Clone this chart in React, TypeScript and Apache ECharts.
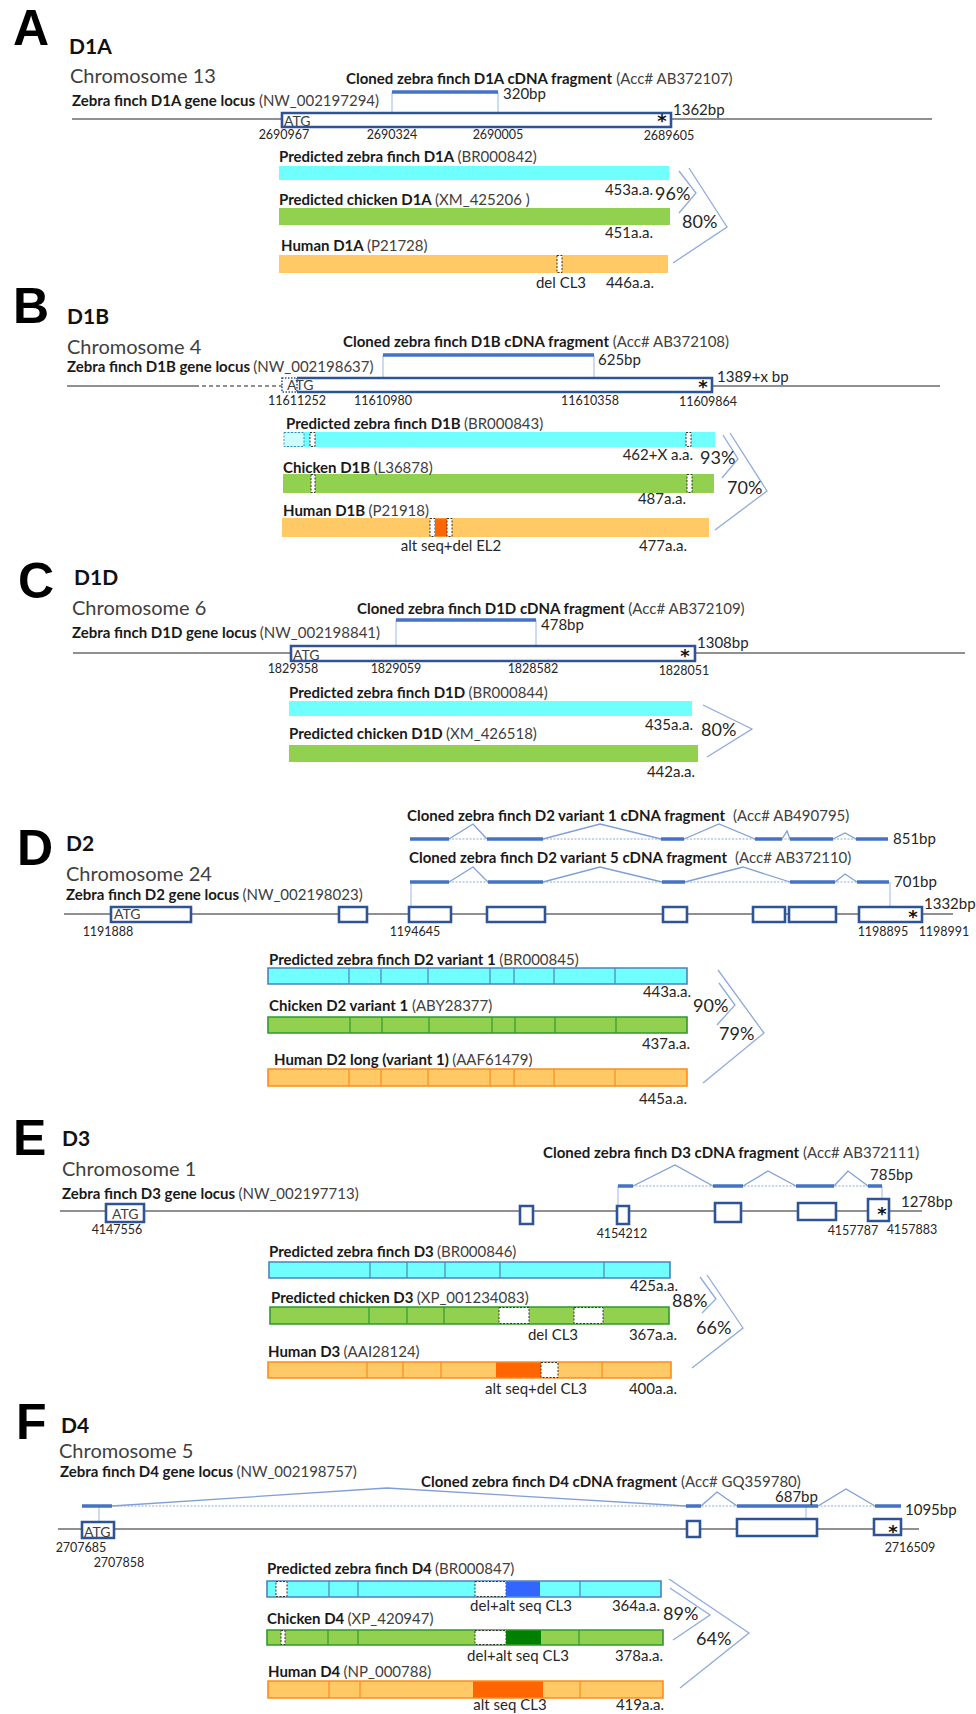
import React, { useEffect, useRef } from "react";
import * as echarts from "echarts";

const W = 976;
const H = 1714;
const FAM = "Lato, 'Open Sans', sans-serif";

// ---------- text data (diagram units) ----------
// [text, left x, centre y]
const panelLetters: [string, number, number][] = [
  ["A", 13, 28], ["B", 13, 306], ["C", 18, 581], ["D", 17, 848], ["E", 13, 1138], ["F", 16, 1422],
];
const geneNames: [string, number, number][] = [
  ["D1A", 69, 45], ["D1B", 67, 315], ["D1D", 74, 576], ["D2", 66, 842], ["D3", 62, 1137], ["D4", 61, 1424],
];
const chromosomes: [string, number, number][] = [
  ["Chromosome 13", 70, 75], ["Chromosome 4", 67, 346], ["Chromosome 6", 72, 607],
  ["Chromosome 24", 66, 873], ["Chromosome 1", 62, 1168], ["Chromosome 5", 59, 1450],
];
// [bold part, plain part, left x, centre y]
const locusLabels: [string, string, number, number][] = [
  ["Zebra finch D1A gene locus", "(NW_002197294)", 72, 100],
  ["Zebra finch D1B gene locus", "(NW_002198637)", 67, 366],
  ["Zebra finch D1D gene locus", "(NW_002198841)", 72, 632],
  ["Zebra finch D2 gene locus", "(NW_002198023)", 66, 894],
  ["Zebra finch D3 gene locus", "(NW_002197713)", 62, 1193],
  ["Zebra finch D4 gene locus", "(NW_002198757)", 60, 1471],
];
const cdnaTitles: [string, string, number, number][] = [
  ["Cloned zebra finch D1A cDNA fragment", "(Acc# AB372107)", 346, 78],
  ["Cloned zebra finch D1B cDNA fragment", "(Acc# AB372108)", 343, 341],
  ["Cloned zebra finch D1D cDNA fragment", "(Acc# AB372109)", 357, 608],
  ["Cloned zebra finch D2 variant 1 cDNA fragment", " (Acc# AB490795)", 407, 815],
  ["Cloned zebra finch D2 variant 5 cDNA fragment", " (Acc# AB372110)", 409, 857],
  ["Cloned zebra finch D3 cDNA fragment", "(Acc# AB372111)", 543, 1152],
  ["Cloned zebra finch D4 cDNA fragment", "(Acc# GQ359780)", 421, 1481],
];
const proteinLabels: [string, string, number, number][] = [
  ["Predicted zebra finch D1A", "(BR000842)", 279, 156],
  ["Predicted chicken D1A", "(XM_425206 )", 279, 199],
  ["Human D1A", "(P21728)", 281, 245],
  ["Predicted zebra finch D1B", "(BR000843)", 286, 423],
  ["Chicken D1B", "(L36878)", 283, 467],
  ["Human D1B", "(P21918)", 283, 510],
  ["Predicted zebra finch D1D", "(BR000844)", 289, 692],
  ["Predicted chicken D1D", "(XM_426518)", 289, 733],
  ["Predicted zebra finch D2 variant 1", "(BR000845)", 269, 959],
  ["Chicken D2 variant 1", "(ABY28377)", 269, 1005],
  ["Human D2 long (variant 1)", "(AAF61479)", 274, 1059],
  ["Predicted zebra finch D3", "(BR000846)", 269, 1251],
  ["Predicted chicken D3", "(XP_001234083)", 271, 1297],
  ["Human D3", "(AAI28124)", 268, 1351],
  ["Predicted zebra finch D4", "(BR000847)", 267, 1568],
  ["Chicken D4", "(XP_420947)", 267, 1618],
  ["Human D4", "(NP_000788)", 268, 1671],
];
// genomic coordinates under the locus: [text, centre x, centre y]
const positionLabels: [string, number, number][] = [
  ["2690967", 284, 134], ["2690324", 392, 134], ["2690005", 498, 134], ["2689605", 669, 135.5],
  ["11611252", 297, 400], ["11610980", 383, 400], ["11610358", 590, 400], ["11609864", 708, 401],
  ["1829358", 293, 668], ["1829059", 396, 668], ["1828582", 533, 668], ["1828051", 684, 670.5],
  ["1191888", 108, 931], ["1194645", 415, 931], ["1198895", 883, 931], ["1198991", 944, 931],
  ["4147556", 117, 1229], ["4154212", 622, 1233], ["4157787", 853, 1230], ["4157883", 912, 1229],
  ["2707685", 81, 1547], ["2707858", 119, 1562], ["2716509", 910, 1547],
];
// lengths in bp: [text, left x, centre y]
const bpLabels: [string, number, number][] = [
  ["1362bp", 673, 109], ["320bp", 503, 93],
  ["1389+x bp", 717, 376], ["625bp", 598, 359],
  ["1308bp", 697, 642], ["478bp", 541, 624],
  ["1332bp", 924, 903], ["851bp", 893, 838], ["701bp", 894, 881],
  ["1278bp", 901, 1201], ["785bp", 870, 1174],
  ["687bp", 775, 1496], ["1095bp", 905, 1509],
];
// protein lengths: [text, right x, centre y]
const aaLabels: [string, number, number][] = [
  ["453a.a.", 653, 189], ["451a.a.", 653, 232], ["446a.a.", 654, 282],
  ["462+X a.a.", 693, 454], ["487a.a.", 686, 498], ["477a.a.", 687, 545],
  ["435a.a.", 693, 724], ["442a.a.", 695, 771],
  ["443a.a.", 691, 991], ["437a.a.", 690, 1043], ["445a.a.", 687, 1098],
  ["425a.a.", 678, 1285], ["367a.a.", 677, 1334], ["400a.a.", 677, 1388],
  ["364a.a.", 660, 1605], ["378a.a.", 663, 1655], ["419a.a.", 664, 1704],
];
// notes under protein bars: [text, centre x, centre y]
const noteLabels: [string, number, number][] = [
  ["del CL3", 561, 282], ["alt seq+del EL2", 451, 545],
  ["del CL3", 553, 1334], ["alt seq+del CL3", 536, 1388],
  ["del+alt seq CL3", 521, 1605], ["del+alt seq CL3", 518, 1655], ["alt seq CL3", 510, 1704],
];
// identities: [text, left x, centre y]
const identityLabels: [string, number, number][] = [
  ["96%", 655, 193], ["80%", 682, 221],
  ["93%", 700, 457], ["70%", 727, 487],
  ["80%", 701, 729],
  ["90%", 693, 1005], ["79%", 719, 1033],
  ["88%", 672, 1300], ["66%", 696, 1327],
  ["89%", 663, 1613], ["64%", 696, 1638],
];
const atgLabels: [string, number, number][] = [
  ["ATG", 284, 120], ["ATG", 287, 384], ["ATG", 293, 654], ["ATG", 114, 913], ["ATG", 112, 1213], ["ATG", 84, 1531],
];
// stop codon marks: [centre x, centre y]
const stopMarks: [number, number][] = [
  [662, 120], [703, 386], [685, 655], [913, 916], [882, 1213], [893, 1531],
];

// ---------- genomic structure ----------
type Seg = [number, number, number]; // x1, x2, y
const genomicSolid: Seg[] = [
  [72, 932, 119], [67, 195, 386], [712, 940, 386], [73, 965, 653], [64, 953, 914], [60, 922, 1211], [58, 919, 1529],
];
const genomicDashed: Seg[] = [[195, 282, 386]];
// exons: [x1, y1, x2, y2, kind] kind 0 closed, 1 open on the left, 2 dotted (unknown)
const exonBoxes: [number, number, number, number, number][] = [
  [282, 113, 671, 127, 0],
  [297, 378, 712, 392, 1], [282, 378, 297, 392, 2],
  [291, 646, 695, 661, 0],
  [111, 907, 191, 922, 0], [339, 907, 367, 922, 0], [409, 907, 451, 922, 0], [487, 907, 545, 922, 0],
  [663, 907, 687, 922, 0], [753, 907, 785, 922, 0], [789, 907, 836, 922, 0], [859, 907, 922, 922, 0],
  [106, 1204, 144, 1222, 0], [520, 1206, 533, 1224, 0], [617, 1206, 629, 1224, 0], [715, 1203, 741, 1222, 0],
  [798, 1203, 836, 1220, 0], [868, 1199, 889, 1221, 0],
  [82, 1522, 114, 1538, 0], [687, 1521, 700, 1537, 0], [737, 1519, 817, 1536, 0], [874, 1519, 901, 1535, 0],
];
// cloned cDNA exonic pieces
const cdnaExons: Seg[] = [
  [392, 498, 92], [383, 594, 355], [396, 536, 620],
  [410, 449, 839], [487, 543, 839], [661, 684, 839], [755, 782, 839], [790, 833, 839], [856, 888, 839],
  [410, 449, 882], [488, 543, 882], [662, 685, 882], [790, 835, 882], [857, 889, 882],
  [618, 633, 1186], [713, 743, 1186], [796, 834, 1186], [868, 882, 1186],
  [82, 112, 1506], [686, 701, 1506], [737, 818, 1506], [875, 901, 1506],
];
const cdnaSpans: Seg[] = [[410, 888, 839], [410, 889, 882], [618, 882, 1186], [82, 901, 1506]];
// splice links: [from x, peak x, peak y, to x, base y]
const spliceLinks: [number, number, number, number, number][] = [
  [449, 473, 824, 487, 839], [543, 600, 824, 661, 839], [684, 719, 824, 755, 839], [782, 787, 831, 790, 839], [833, 845, 833, 856, 839],
  [449, 473, 867, 488, 882], [543, 600, 867, 662, 882], [685, 743, 867, 790, 882], [835, 845, 874, 857, 882],
  [633, 675, 1165, 713, 1186], [743, 768, 1171, 796, 1186], [834, 848, 1171, 868, 1186],
  [112, 387, 1488, 686, 1506], [701, 717, 1492, 737, 1506], [818, 846, 1489, 875, 1506],
];
// fragment ends to locus: [x, y1, y2]
const connectors: [number, number, number][] = [
  [392, 92, 113], [498, 92, 113], [383, 355, 378], [594, 355, 378], [396, 620, 646], [536, 620, 646],
  [411, 882, 907], [890, 882, 907], [618, 1186, 1206], [882, 1186, 1199], [99, 1506, 1522], [806, 1506, 1519],
];
// identity brackets: [x1, y1, xp, yp, x2, y2]
const brackets: [number, number, number, number, number, number][] = [
  [679, 171, 696, 193, 679, 213], [689, 168, 727, 227, 673, 263],
  [723, 435, 738, 459, 722, 478], [730, 433, 767, 491, 715, 530],
  [703, 705, 752, 729, 707, 757],
  [719, 983, 735, 1005, 717, 1025], [718, 970, 764, 1033, 703, 1083],
  [700, 1277, 716, 1299, 702, 1313], [707, 1275, 743, 1328, 692, 1368],
  [670, 1588, 710, 1615, 673, 1640], [669, 1579, 749, 1633, 680, 1688],
];

// ---------- proteins ----------
// [x1, y1, x2, y2, colour (0 zebra finch, 1 chicken, 2 human), outlined]
const proteinBars: [number, number, number, number, number, number][] = [
  [279, 166, 669, 180, 0, 0], [279, 208, 670, 225, 1, 0], [279, 255, 668, 273, 2, 0],
  [284, 432, 715, 447, 0, 0], [283, 474, 714, 493, 1, 0], [282, 518, 709, 537, 2, 0],
  [289, 701, 692, 716, 0, 0], [289, 745, 698, 762, 1, 0],
  [268, 968, 687, 984, 0, 1], [268, 1017, 687, 1033, 1, 1], [268, 1069, 687, 1086, 2, 1],
  [269, 1262, 670, 1278, 0, 1], [270, 1307, 669, 1324, 1, 1], [268, 1362, 671, 1378, 2, 1],
  [267, 1581, 661, 1597, 0, 1], [267, 1630, 663, 1645, 1, 1], [268, 1681, 663, 1698, 2, 1],
];
// [bar index, x1, x2, kind] kind 0 deletion, 1 alt seq (human), 2 alt seq (finch), 3 alt seq (chicken), 4 unknown
const proteinRegions: [number, number, number, number][] = [
  [2, 557, 562, 0],
  [3, 284, 304, 4], [3, 310, 315, 0], [3, 686, 691, 0], [4, 311, 315, 0], [4, 687, 692, 0],
  [5, 430, 435, 0], [5, 435, 447, 1], [5, 447, 452, 0],
  [12, 499, 529, 0], [12, 574, 603, 0], [13, 496, 541, 1], [13, 541, 558, 0],
  [14, 276, 287, 0], [14, 475, 506, 0], [14, 506, 540, 2],
  [15, 281, 285, 0], [15, 475, 506, 0], [15, 506, 541, 3],
  [16, 473, 543, 1],
];
// exon borders inside protein bars: [bar index, x]
const proteinDividers: [number, number][] = [
  [8, 349], [8, 381], [8, 428], [8, 490], [8, 514], [8, 554], [8, 615],
  [9, 350], [9, 382], [9, 429], [9, 492], [9, 515], [9, 555], [9, 616],
  [10, 349], [10, 381], [10, 428], [10, 490], [10, 514], [10, 554], [10, 615],
  [11, 370], [11, 407], [11, 445], [11, 500], [11, 604],
  [12, 369], [12, 407], [12, 444],
  [13, 367], [13, 403], [13, 441], [13, 602],
  [14, 329], [14, 358], [14, 580],
  [15, 328], [15, 358], [15, 579],
  [16, 329], [16, 360], [16, 580],
];

// ---------- styles ----------
const BAR_FILL = ["#6FFFFF", "#92D050", "#FFC966"];
const BAR_EDGE = ["#4F81BD", "#2E9A2E", "#FF8C1A"];
const REGION_FILL = ["#FFFFFF", "#FF6600", "#3366FF", "#008000", "#CCFFFF"];
const TXT = "#262626";
const GREY = "#404040";

type TItem = { x: number; y: number; text: string; font?: string; fill?: string; align: string; rich?: any };

function buildTexts(): TItem[] {
  const out: TItem[] = [];
  const rich = (size: number) => ({
    b: { font: `bold ${size}px ${FAM}`, fill: "#1a1a1a" },
    n: { font: `${size}px ${FAM}`, fill: GREY },
  });
  panelLetters.forEach(([t, x, y]) => out.push({ x, y, text: t, font: "bold 50px 'Liberation Sans', Arial, sans-serif", fill: "#000", align: "left" }));
  geneNames.forEach(([t, x, y]) => out.push({ x, y, text: t, font: `bold 21px ${FAM}`, fill: "#111", align: "left" }));
  chromosomes.forEach(([t, x, y]) => out.push({ x, y, text: t, font: `20px ${FAM}`, fill: GREY, align: "left" }));
  [...locusLabels, ...cdnaTitles, ...proteinLabels].forEach(([b, n, x, y]) =>
    out.push({ x, y, text: `{b|${b}} {n|${n}}`, rich: rich(15), align: "left" })
  );
  positionLabels.forEach(([t, x, y]) => out.push({ x, y, text: t, font: `12.5px ${FAM}`, fill: TXT, align: "center" }));
  bpLabels.forEach(([t, x, y]) => out.push({ x, y, text: t, font: `15px ${FAM}`, fill: TXT, align: "left" }));
  aaLabels.forEach(([t, x, y]) => out.push({ x, y, text: t, font: `15px ${FAM}`, fill: TXT, align: "right" }));
  noteLabels.forEach(([t, x, y]) => out.push({ x, y, text: t, font: `15px ${FAM}`, fill: TXT, align: "center" }));
  identityLabels.forEach(([t, x, y]) => out.push({ x, y, text: t, font: `18px ${FAM}`, fill: TXT, align: "left" }));
  atgLabels.forEach(([t, x, y]) => out.push({ x, y, text: t, font: `14px ${FAM}`, fill: GREY, align: "left" }));
  stopMarks.forEach(([x, y]) => out.push({ x, y, text: "*", font: "bold 18px 'DejaVu Sans', sans-serif", fill: "#111", align: "center" }));
  return out;
}

export default function App() {
  const ref = useRef<HTMLDivElement>(null);

  useEffect(() => {
    document.body.style.margin = "0";
    if (!ref.current) return;
    const chart = echarts.init(ref.current, undefined, { renderer: "svg" });
    const texts = buildTexts();

    const poly = (api: any, pts: number[][], style: any) => ({
      type: "polyline",
      shape: { points: pts.map((p) => api.coord(p)) },
      style: { fill: "none", ...style },
    });
    const rectOf = (api: any, x1: number, y1: number, x2: number, y2: number) => {
      const a = api.coord([x1, y1]);
      const b = api.coord([x2, y2]);
      return { x: Math.min(a[0], b[0]), y: Math.min(a[1], b[1]), width: Math.abs(b[0] - a[0]), height: Math.abs(b[1] - a[1]) };
    };

    const base = { type: "custom", coordinateSystem: "cartesian2d", silent: true, clip: false, animation: false };

    const option: any = {
      animation: false,
      backgroundColor: "#ffffff",
      grid: { left: 0, right: 0, top: 0, bottom: 0 },
      xAxis: { type: "value", min: 0, max: W, show: false },
      yAxis: { type: "value", min: 0, max: H, inverse: true, show: false },
      series: [
        {
          ...base,
          name: "genomic",
          data: [...genomicSolid.map((s) => [...s, 0]), ...genomicDashed.map((s) => [...s, 1])],
          renderItem: (_p: any, api: any) =>
            poly(api, [[api.value(0), api.value(2)], [api.value(1), api.value(2)]], {
              stroke: "#6B6B6B",
              lineWidth: 1.6,
              lineDash: api.value(3) ? [4, 3] : null,
            }),
        },
        {
          ...base,
          name: "connectors",
          data: connectors,
          renderItem: (_p: any, api: any) =>
            poly(api, [[api.value(0), api.value(1)], [api.value(0), api.value(2)]], { stroke: "#9DB9E3", lineWidth: 1 }),
        },
        {
          ...base,
          name: "exons",
          data: exonBoxes,
          renderItem: (_p: any, api: any) => {
            const x1 = api.value(0), y1 = api.value(1), x2 = api.value(2), y2 = api.value(3), k = api.value(4);
            const shape = rectOf(api, x1, y1, x2, y2);
            if (k === 1) {
              return {
                type: "group",
                children: [
                  { type: "rect", shape, style: { fill: "#fff" } },
                  poly(api, [[x1, y1], [x2, y1], [x2, y2], [x1, y2]], { stroke: "#2F5496", lineWidth: 2.6 }),
                ],
              };
            }
            return {
              type: "rect",
              shape,
              style: k === 2
                ? { fill: "#fff", stroke: "#2F5496", lineWidth: 1.6, lineDash: [1.5, 1.5] }
                : { fill: "#fff", stroke: "#2F5496", lineWidth: 2.6 },
            };
          },
        },
        {
          ...base,
          name: "cdna spans",
          data: cdnaSpans,
          renderItem: (_p: any, api: any) =>
            poly(api, [[api.value(0), api.value(2)], [api.value(1), api.value(2)]], { stroke: "#8FAADC", lineWidth: 1, lineDash: [2, 1.5] }),
        },
        {
          ...base,
          name: "splice links",
          data: spliceLinks,
          renderItem: (_p: any, api: any) =>
            poly(api, [[api.value(0), api.value(4)], [api.value(1), api.value(2)], [api.value(3), api.value(4)]], {
              stroke: "#7F9FD6",
              lineWidth: 1.3,
            }),
        },
        {
          ...base,
          name: "cdna exons",
          data: cdnaExons,
          renderItem: (_p: any, api: any) =>
            poly(api, [[api.value(0), api.value(2)], [api.value(1), api.value(2)]], { stroke: "#4472C4", lineWidth: 3.5 }),
        },
        {
          ...base,
          name: "brackets",
          data: brackets,
          renderItem: (_p: any, api: any) =>
            poly(api, [[api.value(0), api.value(1)], [api.value(2), api.value(3)], [api.value(4), api.value(5)]], {
              stroke: "#8FAADC",
              lineWidth: 1.3,
            }),
        },
        {
          ...base,
          name: "proteins",
          data: proteinBars,
          renderItem: (_p: any, api: any) => {
            const c = api.value(4);
            const outlined = api.value(5) === 1;
            return {
              type: "rect",
              shape: rectOf(api, api.value(0), api.value(1), api.value(2), api.value(3)),
              style: { fill: BAR_FILL[c], stroke: outlined ? BAR_EDGE[c] : null, lineWidth: outlined ? 1.6 : 0 },
            };
          },
        },
        {
          ...base,
          name: "protein dividers",
          data: proteinDividers,
          renderItem: (_p: any, api: any) => {
            const bar = proteinBars[api.value(0)];
            const x = api.value(1);
            return poly(api, [[x, bar[1]], [x, bar[3]]], { stroke: BAR_EDGE[bar[4]], lineWidth: 1.2 });
          },
        },
        {
          ...base,
          name: "protein regions",
          data: proteinRegions,
          renderItem: (_p: any, api: any) => {
            const bar = proteinBars[api.value(0)];
            const k = api.value(3);
            const dashed = k === 0 || k === 4;
            return {
              type: "rect",
              shape: rectOf(api, api.value(1), bar[1] + 0.5, api.value(2), bar[3] - 0.5),
              style: {
                fill: REGION_FILL[k],
                stroke: dashed ? (k === 4 ? "#4F81BD" : "#333") : null,
                lineWidth: dashed ? 1 : 0,
                lineDash: dashed ? [2, 1.5] : null,
              },
            };
          },
        },
        {
          ...base,
          name: "texts",
          data: texts.map((t) => [t.x, t.y]),
          renderItem: (p: any, api: any) => {
            const it = texts[p.dataIndex];
            const pt = api.coord([api.value(0), api.value(1)]);
            const style: any = {
              text: it.text,
              fill: it.fill || TXT,
              align: it.align,
              verticalAlign: "middle",
              textAlign: it.align,
              textVerticalAlign: "middle",
            };
            if (it.font) style.font = it.font;
            if (it.rich) style.rich = it.rich;
            return { type: "text", x: pt[0], y: pt[1], style };
          },
        },
      ],
    };

    chart.setOption(option);
    return () => chart.dispose();
  }, []);

  return <div ref={ref} style={{ width: W, height: H }} />;
}
